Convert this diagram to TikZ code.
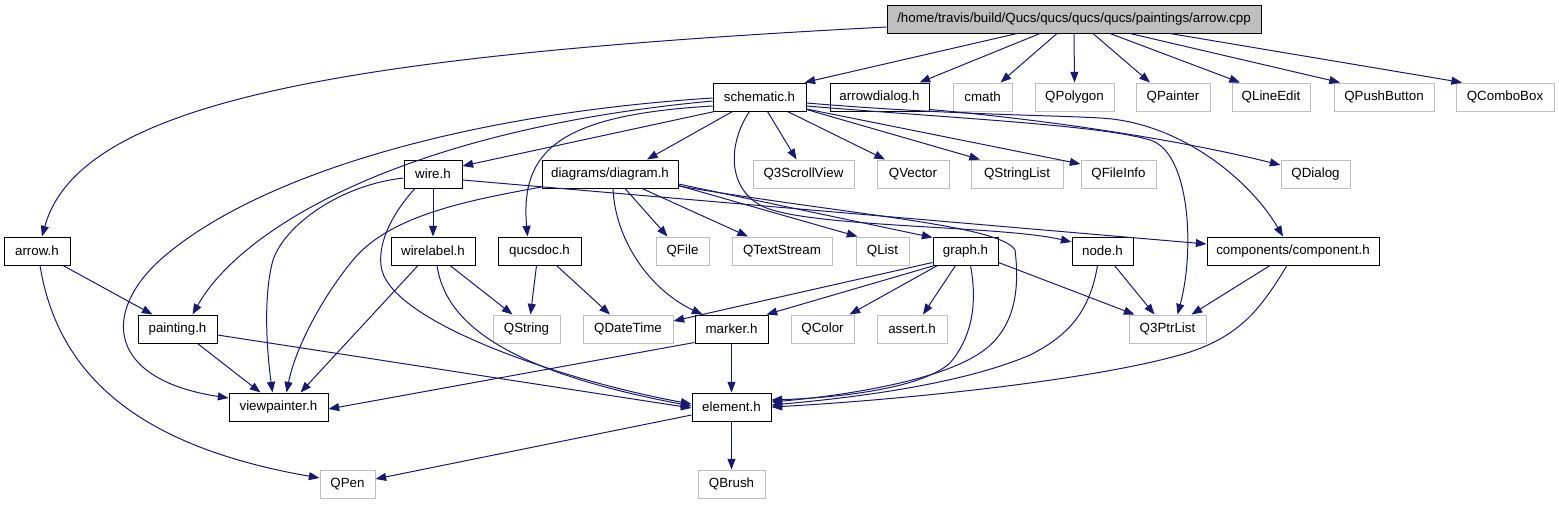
\documentclass[tikz,border=0pt]{standalone}
\usepackage{fontspec}
\setmainfont{Liberation Sans}
\usetikzlibrary{arrows.meta,calc}
\definecolor{edgec}{HTML}{191970}
\definecolor{extc}{HTML}{BFBFBF}
\begin{document}
\begin{tikzpicture}[x=0.75pt,y=-0.75pt,
  base/.style={rectangle, inner sep=0pt, minimum height=21pt, line width=0.75pt, font=\fontsize{10}{12}\selectfont},
  int/.style={base, draw=black, fill=white},
  ext/.style={base, draw=extc, fill=white},
  rootbox/.style={base, draw=black, fill=extc},
  wd/.style={minimum width=#1*0.75pt},
  e/.style={draw=edgec, line width=0.75pt, -{Triangle[length=8pt,width=6pt]}}]
\useasboundingbox (0,0) rectangle (1559,504);
% row 0
\node[rootbox, wd=374] (root) at (1074,19) {/home/travis/build/Qucs/qucs/qucs/qucs/paintings/arrow.cpp};
% row 1
\node[int, wd=93] (sch) at (759.5,97) {schematic.h};
\node[int, wd=99] (adlg) at (879.5,97) {arrowdialog.h};
\node[ext, wd=59] (cmath) at (982.5,97) {cmath};
\node[ext, wd=79] (qpoly) at (1074.5,97) {QPolygon};
\node[ext, wd=74] (qpainter) at (1173,97) {QPainter};
\node[ext, wd=78] (qlineedit) at (1271,97) {QLineEdit};
\node[ext, wd=100] (qpush) at (1384,97) {QPushButton};
\node[ext, wd=98] (qcombo) at (1505,97) {QComboBox};
% row 2
\node[int, wd=58] (wire) at (433,174) {wire.h};
\node[int, wd=136] (diag) at (610,174) {diagrams/diagram.h};
\node[ext, wd=101] (q3scroll) at (803.5,174) {Q3ScrollView};
\node[ext, wd=72] (qvector) at (913,174) {QVector};
\node[ext, wd=92] (qstrlist) at (1017,174) {QStringList};
\node[ext, wd=75] (qfileinfo) at (1118.5,174) {QFileInfo};
\node[ext, wd=69] (qdialog) at (1315.5,174) {QDialog};
% row 3
\node[int, wd=66] (arrowh) at (37,251) {arrow.h};
\node[int, wd=84] (wirelabel) at (433,251) {wirelabel.h};
\node[int, wd=83] (qucsdoc) at (539.5,251) {qucsdoc.h};
\node[ext, wd=53] (qfile) at (682.5,251) {QFile};
\node[ext, wd=100] (qtext) at (782,251) {QTextStream};
\node[ext, wd=53] (qlist) at (882.5,251) {QList};
\node[int, wd=65] (graph) at (965.5,251) {graph.h};
\node[int, wd=61] (node) at (1102.5,251) {node.h};
\node[int, wd=172] (comp) at (1293,251) {components/component.h};
% row 4
\node[int, wd=79] (painting) at (177.5,329) {painting.h};
\node[ext, wd=67] (qstring) at (526.5,329) {QString};
\node[ext, wd=90] (qdatetime) at (628,329) {QDateTime};
\node[int, wd=73] (marker) at (731.5,329) {marker.h};
\node[ext, wd=63] (qcolor) at (822.5,329) {QColor};
\node[ext, wd=70] (assert) at (912,329) {assert.h};
\node[ext, wd=77] (q3ptr) at (1167.5,329) {Q3PtrList};
% row 5
\node[int, wd=99] (viewp) at (278.5,407) {viewpainter.h};
\node[int, wd=79] (element) at (731.5,407) {element.h};
% row 6
\node[ext, wd=55] (qpen) at (347.5,484) {QPen};
\node[ext, wd=67] (qbrush) at (731.5,484) {QBrush};

% root edges
\draw[e] ($(root.west)+(0,8)$) .. controls (350,55) and (80,100) .. ($(arrowh.north)+(5,0)$);
\draw[e] ($(root.south)+(-57,0)$) -- ($(sch.north east)+(-2,0)$);
\draw[e] ($(root.south)+(-34,0)$) -- ($(adlg.north)+(40,0)$);
\draw[e] ($(root.south)+(-17,0)$) -- ($(cmath.north)+(18,0)$);
\draw[e] (root.south) -- (qpoly.north);
\draw[e] ($(root.south)+(19,0)$) -- ($(qpainter.north)+(-23,0)$);
\draw[e] ($(root.south)+(36,0)$) -- ($(qlineedit.north)+(-31,0)$);
\draw[e] ($(root.south)+(56,0)$) -- ($(qpush.north)+(-44,0)$);
\draw[e] ($(root.south)+(96,0)$) -- ($(qcombo.north)+(-43,0)$);
% schematic edges
\draw[e] ($(sch.south west)+(2,0)$) -- ($(wire.east)+(0,-8)$);
\draw[e] ($(sch.south)+(-27,0)$) -- ($(diag.north)+(37,0)$);
\draw[e] ($(sch.west)+(0,9)$) .. controls (560,115) and (520,150) .. ($(qucsdoc.north)+(-12,0)$);
\draw[e] ($(sch.west)+(0,4)$) .. controls (400,130) and (240,230) .. ($(painting.north)+(15,0)$);
\draw[e] ($(sch.west)+(0,1)$) .. controls (450,115) and (250,180) .. (160,260) .. controls (100,315) and (110,380) .. ($(viewp.west)+(0,-9)$);
\draw[e] ($(sch.south)+(8,0)$) -- ($(q3scroll.north)+(-7,0)$);
\draw[e] ($(sch.south)+(28,0)$) -- ($(qvector.north)+(-28,0)$);
\draw[e] ($(sch.south east)+(0,-2)$) -- ($(qstrlist.north)+(-37,0)$);
\draw[e] ($(sch.east)+(0,12)$) -- ($(qfileinfo.west)+(0,-10)$);
\draw[e] ($(sch.east)+(0,9)$) .. controls (950,118) and (1100,125) .. (1150,140) .. controls (1190,152) and (1195,250) .. ($(q3ptr.north)+(10,0)$);
\draw[e] ($(sch.east)+(0,6)$) .. controls (950,115) and (1050,115) .. (1100,118) .. controls (1180,122) and (1250,180) .. ($(comp.north)+(-10,0)$);
\draw[e] ($(sch.south)+(-10,0)$) .. controls (730,140) and (725,185) .. (760,205) .. controls (800,228) and (1000,225) .. ($(node.west)+(0,-9)$);
% arrowdialog
\draw[e] ($(adlg.south east)+(0,-2)$) .. controls (1050,120) and (1180,140) .. ($(qdialog.west)+(0,-9)$);
% diagram edges
\draw[e] ($(diag.west)+(0,13)$) .. controls (470,200) and (390,215) .. (353,260) .. controls (320,300) and (295,350) .. ($(viewp.north)+(8,0)$);
\draw[e] ($(diag.south)+(15,0)$) -- ($(qfile.north)+(-15,0)$);
\draw[e] ($(diag.south)+(32,0)$) -- ($(qtext.north)+(-34,0)$);
\draw[e] ($(diag.south east)+(0,-3)$) -- ($(qlist.north west)+(2,0)$);
\draw[e] ($(diag.east)+(0,10)$) -- ($(graph.north west)+(0,1)$);
\draw[e] ($(diag.south)+(3,0)$) .. controls (615,240) and (650,290) .. ($(marker.north west)+(8,0)$);
\draw[e] ($(diag.east)+(0,12)$) .. controls (850,215) and (1000,225) .. (1015,250) .. controls (1020,290) and (1015,330) .. (980,353) .. controls (940,380) and (850,395) .. ($(element.east)+(0,-5)$);
% wire edges
\draw[e] (wire.south) -- (wirelabel.north);
\draw[e] ($(wire.west)+(0,4)$) .. controls (340,185) and (285,225) .. (273,260) .. controls (262,300) and (268,360) .. ($(viewp.north)+(-6,0)$);
\draw[e] ($(wire.south)+(-18,0)$) .. controls (395,210) and (378,240) .. (381,265) .. controls (385,320) and (560,380) .. ($(element.west)+(0,-3)$);
\draw[e] ($(wire.east)+(0,6)$) -- ($(comp.west)+(0,-7)$);
% wirelabel
\draw[e] ($(wirelabel.south)+(17,0)$) -- ($(qstring.north)+(-14,0)$);
\draw[e] ($(wirelabel.south)+(-15,0)$) -- ($(viewp.north)+(22,0)$);
\draw[e] ($(wirelabel.south)+(4,0)$) .. controls (445,320) and (500,370) .. ($(element.west)+(0,-1)$);
% qucsdoc
\draw[e] ($(qucsdoc.south)+(-3,0)$) -- ($(qstring.north)+(4,0)$);
\draw[e] ($(qucsdoc.south)+(17,0)$) -- ($(qdatetime.north)+(-18,0)$);
% painting
\draw[e] ($(painting.south)+(20,0)$) -- ($(viewp.north)+(-18,0)$);
\draw[e] ($(painting.east)+(0,6)$) -- ($(element.west)+(0,1)$);
% arrow.h
\draw[e] ($(arrowh.south)+(26,0)$) -- ($(painting.north)+(-25,0)$);
\draw[e] ($(arrowh.south)+(3,0)$) .. controls (60,390) and (160,450) .. ($(qpen.west)+(0,-6)$);
% element
\draw[e] ($(element.west)+(0,8)$) -- ($(qpen.east)+(0,-5)$);
\draw[e] (element) -- (qbrush);
% marker
\draw[e] (marker) -- (element);
\draw[e] ($(marker.south west)+(0,-1)$) -- ($(viewp.east)+(0,2)$);
% graph
\draw[e] ($(graph.south west)+(0,-3)$) -- ($(qdatetime.east)+(0,-8)$);
\draw[e] ($(graph.south west)+(2,0)$) -- ($(marker.north east)+(-2,0)$);
\draw[e] ($(graph.south)+(-28,0)$) -- ($(qcolor.north)+(27,0)$);
\draw[e] ($(graph.south)+(-10,0)$) -- ($(assert.north)+(11,0)$);
\draw[e] ($(graph.south)+(5,0)$) .. controls (975,290) and (978,330) .. (950,363) .. controls (920,390) and (830,398) .. ($(element.east)+(0,-7)$);
\draw[e] ($(graph.south east)+(0,-3)$) -- ($(q3ptr.north west)+(6,0)$);
% node
\draw[e] ($(node.south)+(12,0)$) -- ($(q3ptr.north)+(-13,0)$);
\draw[e] ($(node.south)+(-5,0)$) .. controls (1090,310) and (1070,335) .. (1030,355) .. controls (960,385) and (850,398) .. ($(element.east)+(0,-2)$);
% component
\draw[e] ($(comp.south)+(-23,0)$) -- ($(q3ptr.north)+(24,0)$);
\draw[e] ($(comp.south)+(-6,0)$) .. controls (1260,310) and (1240,335) .. (1190,352) .. controls (1100,380) and (900,400) .. ($(element.east)+(0,0)$);
\end{tikzpicture}
\end{document}
